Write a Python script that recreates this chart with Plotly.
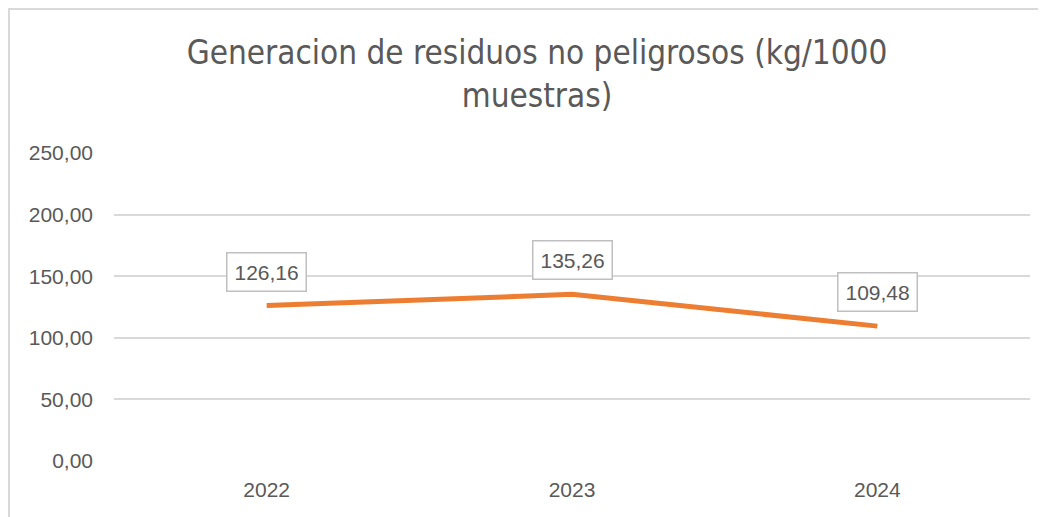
import plotly.graph_objects as go

years = ["2022", "2023", "2024"]
values = [126.16, 135.26, 109.48]
y_ticks = [0, 50, 100, 150, 200, 250]
y_tick_labels = ["0,00", "50,00", "100,00", "150,00", "200,00", "250,00"]
label_texts = [f"{v:.2f}".replace(".", ",") for v in values]

# page body has an 8px margin, so the figure is a bit smaller than the window
W, H = 1038, 509
ml, mr, mt, mb = 106, 16, 145, 56
pw = W - ml - mr
ph = H - mt - mb

fig = go.Figure()
fig.add_trace(go.Scatter(
    x=years, y=values, mode="lines",
    line=dict(color="#ED7D31", width=5),
    hoverinfo="skip", showlegend=False,
))

for i, (v, t) in enumerate(zip(values, label_texts)):
    fig.add_annotation(
        x=i, y=v, xref="x", yref="y", text=t, showarrow=False, yshift=34,
        font=dict(family="Liberation Sans, Arial, sans-serif", size=21, color="#595959"),
        bgcolor="white", bordercolor="#BFBFBF", borderwidth=1.5, borderpad=7,
    )

# chart outer border (left and top edges visible)
fig.add_shape(
    type="rect", xref="paper", yref="paper",
    x0=(1 - ml) / pw, x1=(W + 20 - ml) / pw,
    y0=-(mb + 20) / ph, y1=(H - 1 - mb) / ph,
    line=dict(color="#D9D9D9", width=2), layer="below",
)

fig.update_layout(
    width=W, height=H,
    margin=dict(l=ml, r=mr, t=mt, b=mb),
    paper_bgcolor="white", plot_bgcolor="white",
    title=dict(
        text="Generacion de residuos no peligrosos (kg/1000<br>muestras)",
        x=0.5 + 10 / W, xanchor="center", y=1 - 56 / H, yanchor="middle",
        font=dict(family="DejaVu Sans Condensed, Liberation Sans Narrow, Arial Narrow, sans-serif",
                  size=33, color="#595959"),
    ),
    xaxis=dict(
        type="category", range=[-0.5, 2.5], showgrid=False, zeroline=False,
        showline=False, ticks="", ticklabelstandoff=14,
        tickfont=dict(family="Liberation Sans, Arial, sans-serif", size=21, color="#595959"),
    ),
    yaxis=dict(
        range=[0, 250], tickvals=y_ticks, ticktext=y_tick_labels,
        showgrid=True, gridcolor="#D9D9D9", gridwidth=1.5, zeroline=False,
        showline=False, ticks="", ticklabelstandoff=20,
        tickfont=dict(family="Liberation Sans, Arial, sans-serif", size=21, color="#595959"),
    ),
)

fig.write_html("out.html")
